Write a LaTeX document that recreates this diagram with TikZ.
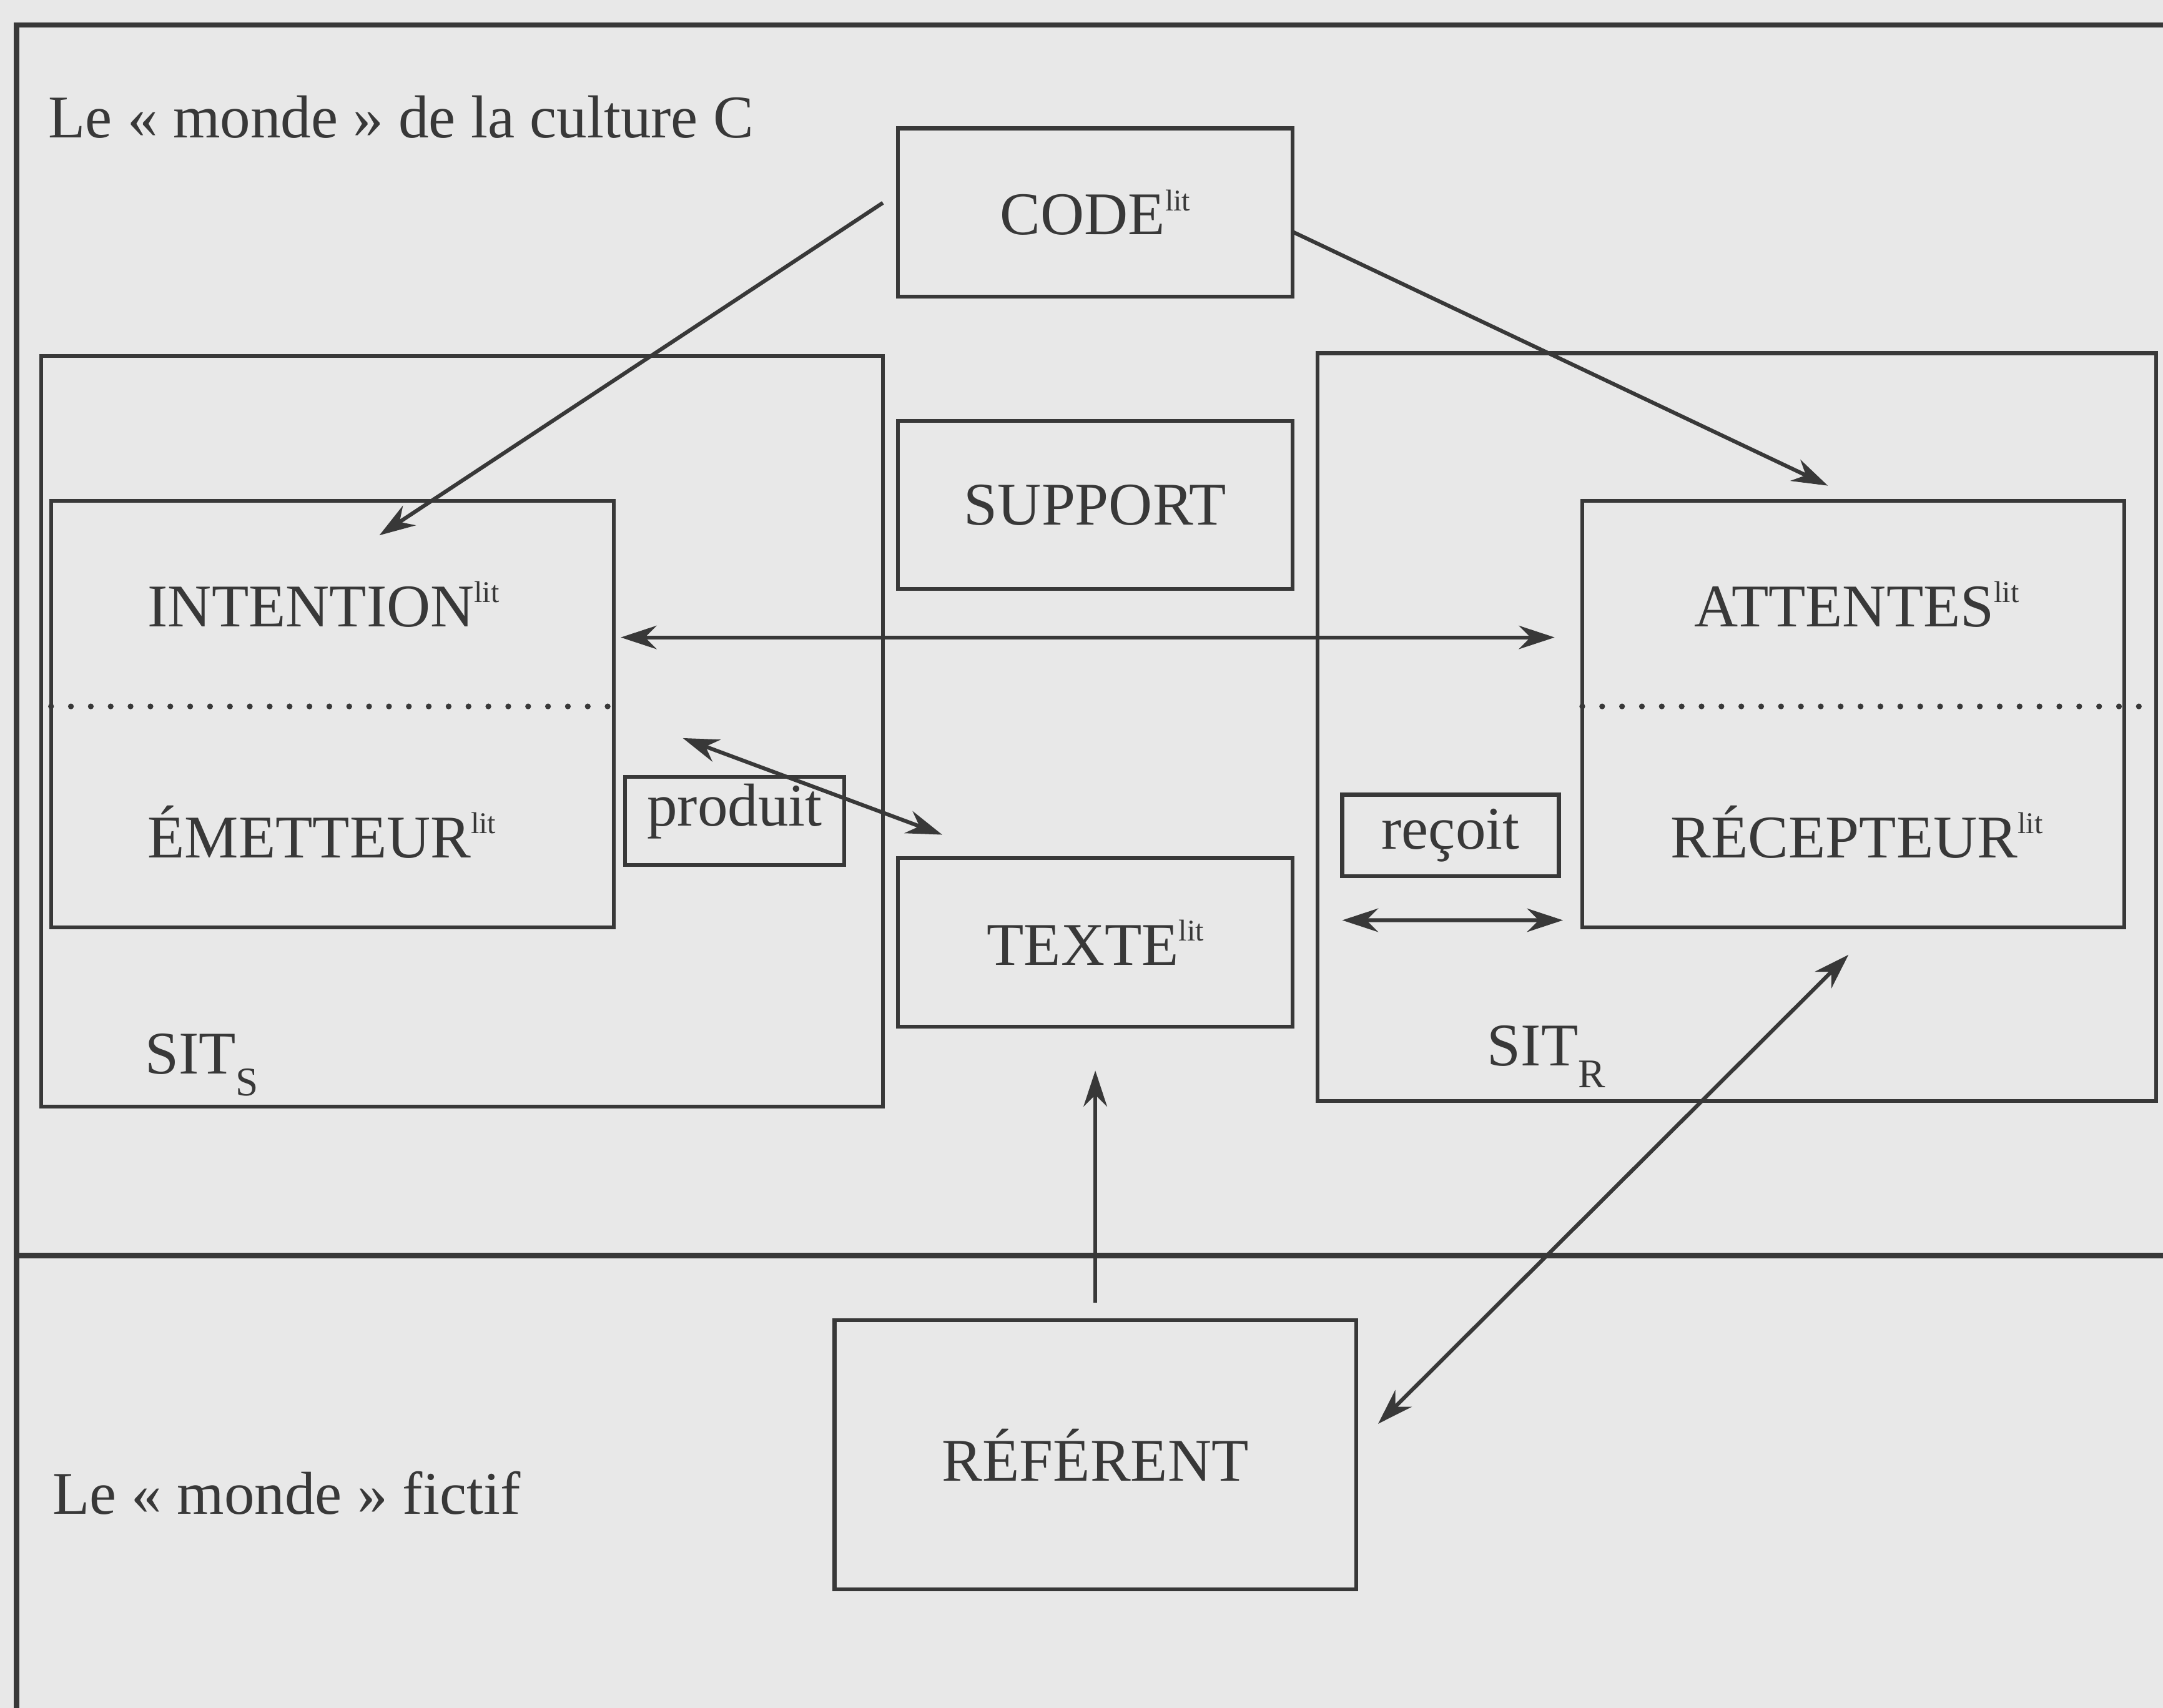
\documentclass[tikz,border=0pt]{standalone}
\usepackage{fontspec}
\setmainfont{Liberation Serif}
\usepackage{xcolor}
\usetikzlibrary{positioning,arrows.meta}
\definecolor{paper}{gray}{0.91}
\definecolor{ink}{gray}{0.22}
\newcommand\lit{\raisebox{0.4em}{\fontsize{6.2}{7}\selectfont lit}}
\newcommand\sitsub[1]{\raisebox{-0.36em}{\fontsize{8.4}{10}\selectfont #1}}

\begin{document}
\begin{tikzpicture}[ink, line width=0.8pt,
    every node/.style={font=\fontsize{12.5}{15}\selectfont, text=ink},
    box/.style={draw, inner sep=0pt, outer sep=0pt},
    mid/.style={box, minimum width=2.86cm, minimum height=1.22cm},
    arr/.style={-{Stealth[length=2.6mm,width=1.7mm]}},
    dbl/.style={{Stealth[length=2.6mm,width=1.7mm]}-{Stealth[length=2.6mm,width=1.7mm]}},
    dots/.style={line width=1.2pt, line cap=round, dash pattern=on 0pt off 4.1pt}]
    \fill[paper] (0,0) rectangle (15.68,-12.38);
    \useasboundingbox (0,0) rectangle (15.68,-12.38);
    \draw[line width=1.1pt] (0.12,-12.38) -- (0.12,-0.18) -- (15.68,-0.18);
    \draw[line width=1.1pt] (0.12,-9.1) -- (15.68,-9.1);
    \node[anchor=west] (culture) at (0.22,-0.85) {Le « monde » de la culture C};
    \node[anchor=west] (fictif) at (0.25,-10.82) {Le « monde » fictif};
    \node(code)[mid] at (7.94,-1.54) {CODE\lit};
    \node(support)[mid, below=0.9cm of code] {SUPPORT};
    \node(texte)[mid, below=1.95cm of support] {TEXTE\lit};
    \node(ref)[box, minimum width=3.78cm, minimum height=1.95cm, below=2.13cm of texte] {RÉFÉRENT};
    \node(sits)[box, minimum width=6.1cm, minimum height=5.44cm] at (3.35,-5.30) {};
    \node(sitr)[box, minimum width=6.08cm, minimum height=5.42cm] at (12.59,-5.27) {};
    \node(emet)[box, minimum width=4.08cm, minimum height=3.09cm] at (2.41,-5.175) {};
    \node(recep)[box, minimum width=3.93cm, minimum height=3.09cm] at (13.435,-5.175) {};
    \node(produit)[box, minimum width=1.59cm, minimum height=0.64cm, text height=6pt, text depth=4pt] at (5.325,-5.95) {produit};
    \node(recoit)[box, minimum width=1.57cm, minimum height=0.59cm] at (10.515,-6.055) {reçoit};
    \node(intention)[anchor=west] at (0.94,-4.38) {INTENTION\lit};
    \node(emetteur)[anchor=west] at (0.94,-6.03) {ÉMETTEUR\lit};
    \node(attentes) at (13.46,-4.38) {ATTENTES\lit};
    \node(recepteur) at (13.46,-6.03) {RÉCEPTEUR\lit};
    \node(sitslab)[anchor=west] at (0.92,-7.72) {SIT\sitsub{S}};
    \node(sitrlab)[anchor=west] at (10.65,-7.66) {SIT\sitsub{R}};
    \draw[dots] ([yshift=0.55mm]emet.west) -- ([yshift=0.55mm]emet.east);
    \draw[dots] ([yshift=0.55mm]recep.west) -- ([yshift=0.55mm]recep.west -| sitr.east);
    \draw[arr] ([xshift=-1.1mm,yshift=0.7mm]code.west) -- ([xshift=3.4mm,yshift=-2.5mm]emet.north);
    \draw[arr] ([yshift=-1.4mm]code.east) -- ([xshift=-1.85mm,yshift=1.1mm]recep.north);
    \draw[dbl] ([xshift=0.5mm,yshift=5.55mm]emet.east) -- ([xshift=-2mm,yshift=5.55mm]recep.west);
    \draw[dbl] ([xshift=5mm,yshift=-1.75mm]emet.east) -- ([xshift=3.2mm,yshift=1.7mm]texte.north west);
    \draw[dbl] ([yshift=-3.2mm]recoit.south west) -- ([xshift=-1.4mm,yshift=0.5mm]recep.south west);
    \draw[arr] ([yshift=1.3mm]ref.north) -- ([yshift=-3.2mm]texte.south);
    \draw[dbl] ([xshift=1.6mm,yshift=2.25mm]ref.east) -- ([xshift=-0.35mm,yshift=-2mm]recep.south);
\end{tikzpicture}
\end{document}
